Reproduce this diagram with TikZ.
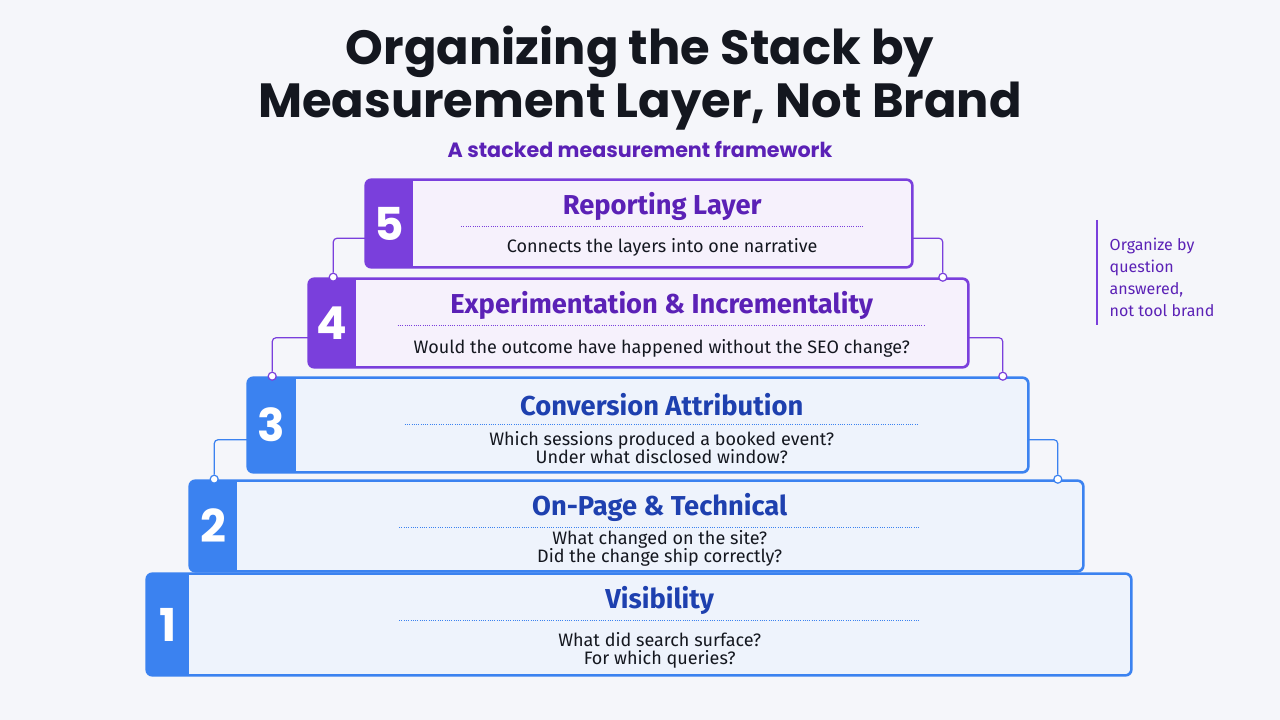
\documentclass[tikz,border=0pt]{standalone}
\usepackage{fontspec}
\setmainfont{Fira Sans}
\newfontfamily\headfont{Poppins}
\usetikzlibrary{positioning,calc}

\definecolor{bgc}{HTML}{F5F6FA}
\definecolor{ink}{HTML}{14171F}
\definecolor{purp}{HTML}{7A3FDC}
\definecolor{purpT}{HTML}{5B21B6}
\definecolor{purpF}{HTML}{F6F1FC}
\definecolor{blu}{HTML}{3B82F0}
\definecolor{bluT}{HTML}{1E40AF}
\definecolor{bluF}{HTML}{EEF3FC}

\tikzset{
    layer/.style={draw=#1, line width=1.2pt, rounded corners=4.5pt, inner sep=0pt},
    num/.style={text=white, font=\headfont\bfseries\fontsize{34}{34}\selectfont},
    ltitle/.style={font=\bfseries\fontsize{20.5}{22}\selectfont},
    lsub/.style={text=ink, font=\fontsize{13.5}{13.8}\selectfont, align=center, inner sep=0pt},
    rule/.style={densely dotted, line width=0.7pt},
    conn/.style={line width=0.9pt, rounded corners=3pt},
    dot/.style={circle, draw=#1, fill=white, line width=0.9pt, inner sep=0pt, minimum size=6pt},
}

\begin{document}
\begin{tikzpicture}[x=0.75pt,y=-0.75pt]
    \useasboundingbox[fill=bgc] (0,0) rectangle (1280,720);

    % Heading
    \node[text=ink, font=\headfont\bfseries\fontsize{36}{40}\selectfont, align=center] (head) at (640,78)
        {Organizing the Stack by\\Measurement Layer, Not Brand};
    \node[text=purpT, font=\headfont\fontsize{15.5}{17}\selectfont\bfseries] (sub) at (640,149)
        {A stacked measurement framework};

    % Layers
    \foreach \n/\x/\y/\w/\h/\t/\c/\rw/\sy/\ttl/\txt in {
        5/639/223.5/546/87/48/purp/402/32/{Reporting Layer}/{Connects the layers into one narrative},
        4/638.5/323/659/88/48/purp/528/34/{Experimentation \& Incrementality}/{Would the outcome have happened without the SEO change?},
        3/638/425/780/94/49/blu/514/27/{Conversion Attribution}/{Which sessions produced a booked event?\\Under what disclosed window?},
        2/636.5/526/893/90/48/blu/521/23/{On-Page \& Technical}/{What changed on the site?\\Did the change ship correctly?},
        1/639/624.5/984/101/43/blu/521/32/{Visibility}/{What did search surface?\\For which queries?}} {

        \node[layer=\c, fill=\c F, minimum width=\w*0.75pt, minimum height=\h*0.75pt] (L\n) at (\x,\y) {};
        \begin{scope}
            \clip[rounded corners=4.5pt] (L\n.south west) rectangle (L\n.north east);
            \fill[\c] (L\n.south west) rectangle ([xshift=\t*0.75pt]L\n.north west);
        \end{scope}
        \draw[\c, line width=1.2pt, rounded corners=4.5pt] (L\n.south west) rectangle (L\n.north east);
        \node[num] (N\n) at ($(L\n.west)+(\t/2,0)$) {\n};

        % Texts
        \node[ltitle, text=\c T] (T\n) at ($(L\n.north west)+(\t/2+\w/2,27)$) {\ttl};
        \draw[rule, \c] ($(T\n)+(-\rw/2,20)$) -- ($(T\n)+(\rw/2,20)$);
        \node[lsub, anchor=north] (S\n) at ($(T\n)+(0,\sy)$) {\txt};
    }

    % Connectors
    \foreach \a/\b/\c in {5/4/purp, 4/3/purp, 3/2/blu} {
        \node[dot=\c] (DL\a) at ($(L\b.north west)+(25,-1)$) {};
        \node[dot=\c] (DR\a) at ($(L\b.north east)+(-26,-1)$) {};
        \draw[conn, \c] ([yshift=-11pt]L\a.west) -| (DL\a);
        \draw[conn, \c] ([yshift=-11pt]L\a.east) -| (DR\a);
    }

    % Side note
    \draw[purp, line width=1pt] (1097,220) -- (1097,325);
    \node[text=purpT, font=\fontsize{12}{16.5}\selectfont, align=left, anchor=north west] (note) at (1105,233)
        {Organize by\\question\\answered,\\not tool brand};
\end{tikzpicture}
\end{document}
